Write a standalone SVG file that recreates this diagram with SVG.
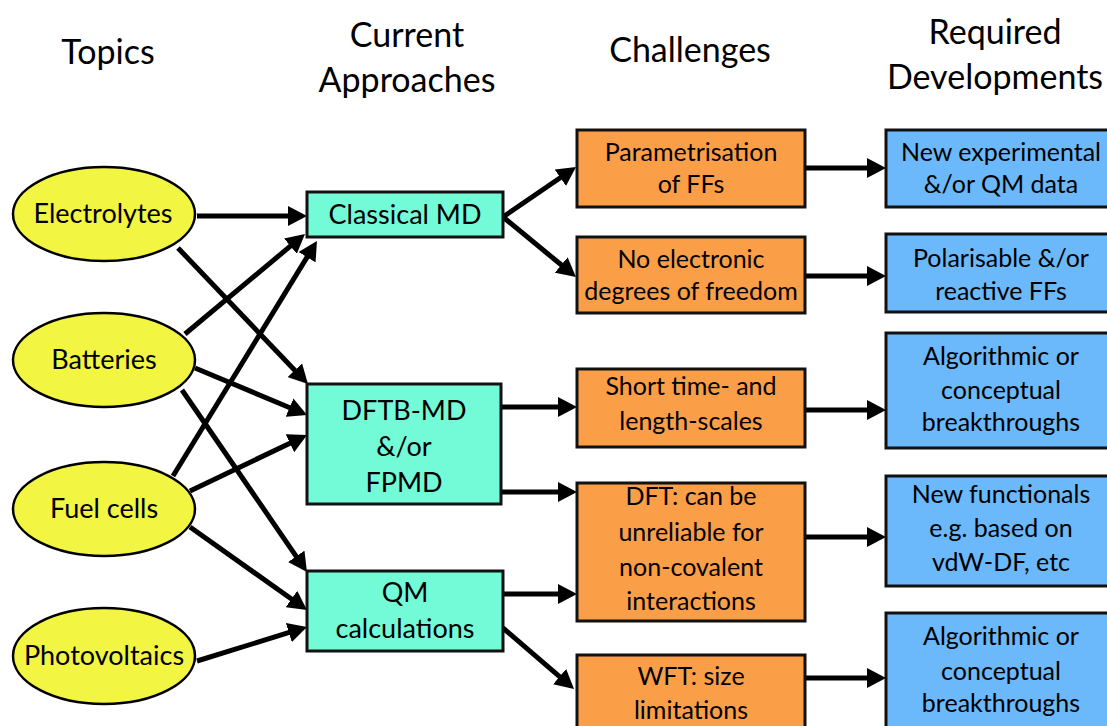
<svg xmlns="http://www.w3.org/2000/svg" width="1107" height="726" viewBox="0 0 1107 726">
<defs>
<marker id="ah" markerUnits="userSpaceOnUse" markerWidth="20" markerHeight="20" refX="3" refY="10" orient="auto" viewBox="0 0 20 20">
<path d="M0,0 L19,10 L0,20 z" fill="#000"/>
</marker>
</defs>
<style>
text{font-family:"Lato","Liberation Sans",sans-serif;fill:#000;text-anchor:middle}
.h{font-size:34px}
.t{font-size:25px}
.b{font-size:27px}
.topic{fill:#F2F542;stroke:#000;stroke-width:2.5}
.appr{fill:#73FAD7;stroke:#111;stroke-width:3}
.chal{fill:#FA9E48;stroke:#111;stroke-width:3}
.dev{fill:#6BB8FA;stroke:#111;stroke-width:3}
.c line{stroke:#000;stroke-width:5;marker-end:url(#ah)}
</style>
<rect width="1107" height="726" fill="#fff"/>
<g id="headers">
<text class="h" x="108" y="64">Topics</text>
<text class="h" x="407" y="47">Current</text>
<text class="h" x="407" y="92">Approaches</text>
<text class="h" x="690" y="62">Challenges</text>
<text class="h" x="995" y="44">Required</text>
<text class="h" x="995" y="89">Developments</text>
</g>
<g class="c" id="connectors">
<line x1="197" y1="216" x2="291" y2="216"/>
<line x1="178" y1="248" x2="296.9" y2="372.4"/>
<line x1="185" y1="334" x2="292.7" y2="244.2"/>
<line x1="195" y1="368" x2="292.3" y2="408.8"/>
<line x1="182" y1="390" x2="297.9" y2="558.8"/>
<line x1="173" y1="476" x2="308.6" y2="254.6"/>
<line x1="190" y1="491" x2="292.6" y2="441.9"/>
<line x1="190" y1="527" x2="293.9" y2="600.7"/>
<line x1="197" y1="661" x2="291.7" y2="631.7"/>
<line x1="503" y1="217" x2="562.8" y2="176"/>
<line x1="503" y1="217" x2="563.6" y2="266.8"/>
<line x1="501" y1="407" x2="561" y2="407"/>
<line x1="501" y1="492" x2="561" y2="492"/>
<line x1="503" y1="594" x2="561" y2="594"/>
<line x1="503" y1="628" x2="561.9" y2="678.6"/>
<line x1="805" y1="168" x2="870" y2="168"/>
<line x1="805" y1="276" x2="870" y2="276"/>
<line x1="805" y1="410" x2="870" y2="410"/>
<line x1="805" y1="537" x2="870" y2="537"/>
<line x1="805" y1="678" x2="870" y2="678"/>
</g>
<g id="electrolytes"><ellipse class="topic" cx="104" cy="214" rx="91" ry="47"/><text class="b" x="103" y="223">Electrolytes</text></g>
<g id="batteries"><ellipse class="topic" cx="104" cy="360" rx="91" ry="47"/><text class="b" x="104" y="369">Batteries</text></g>
<g id="fuelcells"><ellipse class="topic" cx="104" cy="509" rx="91" ry="47"/><text class="b" x="104" y="518">Fuel cells</text></g>
<g id="photovoltaics"><ellipse class="topic" cx="104" cy="656" rx="91" ry="48"/><text class="b" x="104" y="665">Photovoltaics</text></g>

<g id="classicalmd"><rect class="appr" x="307" y="192" width="196" height="45"/><text class="b" x="405" y="224">Classical MD</text></g>
<g id="dftbmd"><rect class="appr" x="307" y="384" width="194" height="120"/><text class="b" x="404" y="420">DFTB-MD</text><text class="b" x="404" y="456">&amp;/or</text><text class="b" x="404" y="492">FPMD</text></g>
<g id="qmcalc"><rect class="appr" x="307" y="571" width="196" height="80"/><text class="b" x="405" y="602">QM</text><text class="b" x="405" y="638">calculations</text></g>

<g id="param"><rect class="chal" x="577" y="130" width="228" height="77"/><text class="t" x="691" y="161">Parametrisation</text><text class="t" x="691" y="193">of FFs</text></g>
<g id="noelec"><rect class="chal" x="577" y="237" width="228" height="76"/><text class="t" x="691" y="268">No electronic</text><text class="t" x="691" y="300">degrees of freedom</text></g>
<g id="shorttime"><rect class="chal" x="577" y="369" width="228" height="78"/><text class="t" x="691" y="395">Short time- and</text><text class="t" x="691" y="430">length-scales</text></g>
<g id="dft"><rect class="chal" x="577" y="483" width="228" height="138"/><text class="t" x="691" y="505">DFT: can be</text><text class="t" x="691" y="541">unreliable for</text><text class="t" x="691" y="576">non-covalent</text><text class="t" x="691" y="610">interactions</text></g>
<g id="wft"><rect class="chal" x="577" y="655" width="228" height="85"/><text class="t" x="691" y="685">WFT: size</text><text class="t" x="691" y="719">limitations</text></g>

<g id="newexp"><rect class="dev" x="886" y="130" width="230" height="77"/><text class="t" x="1001" y="161">New experimental</text><text class="t" x="1001" y="193">&amp;/or QM data</text></g>
<g id="polar"><rect class="dev" x="886" y="234" width="230" height="78"/><text class="t" x="1001" y="267">Polarisable &amp;/or</text><text class="t" x="1001" y="300">reactive FFs</text></g>
<g id="algo1"><rect class="dev" x="886" y="333" width="230" height="115"/><text class="t" x="1001" y="365">Algorithmic or</text><text class="t" x="1001" y="399">conceptual</text><text class="t" x="1001" y="431">breakthroughs</text></g>
<g id="newfunc"><rect class="dev" x="886" y="476" width="230" height="110"/><text class="t" x="1001" y="503">New functionals</text><text class="t" x="1001" y="537">e.g. based on</text><text class="t" x="1001" y="571">vdW-DF, etc</text></g>
<g id="algo2"><rect class="dev" x="886" y="613" width="230" height="120"/><text class="t" x="1001" y="645">Algorithmic or</text><text class="t" x="1001" y="680">conceptual</text><text class="t" x="1001" y="712">breakthroughs</text></g>
</svg>
